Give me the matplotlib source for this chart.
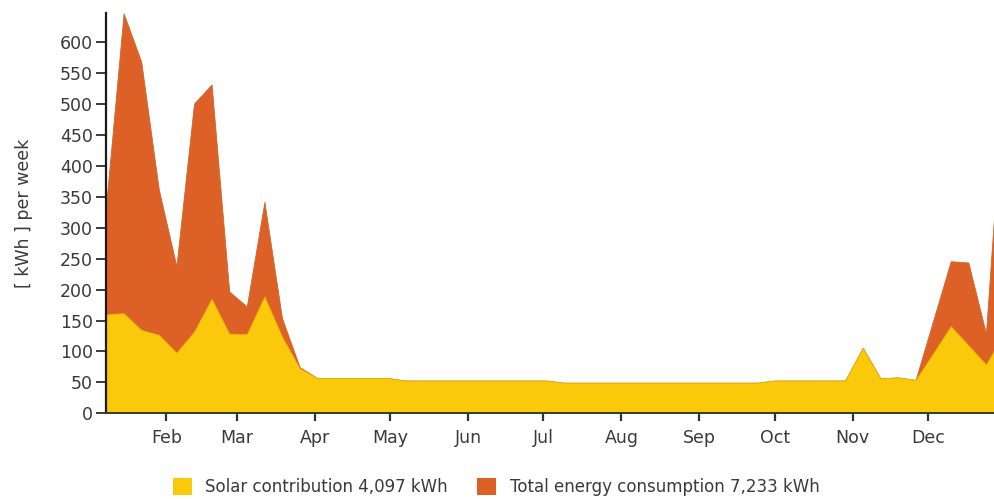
import matplotlib
matplotlib.use("Agg")
import matplotlib.pyplot as plt
import matplotlib.dates as mdates
from matplotlib.patches import Patch
import pandas as pd

# Weekly data (52 weeks)
week_start = "2023-01-08"
n_weeks = 52
total_kwh = [335, 647, 569, 362, 238, 501, 532, 197, 173, 342, 154, 75,
             57, 57, 57, 57, 57, 53, 53, 53, 53, 53, 53, 53, 53, 53,
             49.5, 49.5, 49.5, 49.5, 49.5, 49.5, 49.5, 49.5, 49.5, 49.5, 49.5, 49.5,
             53, 53, 53, 53, 53, 106, 56.5, 58, 54, 150, 246, 244, 129, 540]
solar_kwh = [160, 162, 135, 127, 98, 132, 185, 129, 128, 189, 124, 73,
             57, 57, 57, 57, 57, 53, 53, 53, 53, 53, 53, 53, 53, 53,
             49.5, 49.5, 49.5, 49.5, 49.5, 49.5, 49.5, 49.5, 49.5, 49.5, 49.5, 49.5,
             53, 53, 53, 53, 53, 106, 56.5, 58, 54, 97, 141, 110, 79, 128]
y_ticks = [0, 50, 100, 150, 200, 250, 300, 350, 400, 450, 500, 550, 600]
legend_labels = ["Solar contribution 4,097 kWh", "Total energy consumption 7,233 kWh"]
y_label = "[ kWh ] per week"

dates = pd.date_range(week_start, periods=n_weeks, freq="7D")

YELLOW = "#FAC90B"
ORANGE = "#DD6127"
TXT = "#3a3a3a"

plt.rcParams["font.family"] = ["DejaVu Sans"]

fig = plt.figure(figsize=(9.95, 4.99), dpi=100)
ax = fig.add_axes([106 / 995, 85.7 / 499, 889 / 995, 400.6 / 499])

ax.fill_between(dates, 0, total_kwh, color=ORANGE, linewidth=0.6, edgecolor="#c8692e")
ax.fill_between(dates, 0, solar_kwh, color=YELLOW, linewidth=0.6, edgecolor="#e8b20a")

ax.set_xlim(dates[0], dates[0] + pd.Timedelta(days=353.6))
ax.set_ylim(0, 648)
ax.set_yticks(y_ticks)

ax.xaxis.set_major_locator(mdates.MonthLocator())
ax.xaxis.set_major_formatter(mdates.DateFormatter("%b"))

for s in ["top", "right"]:
    ax.spines[s].set_visible(False)
ax.spines["left"].set_linewidth(1.6)
ax.spines["left"].set_color("#1a1a1a")
ax.spines["bottom"].set_linewidth(1.4)
ax.spines["bottom"].set_color("#3a3a2a")

ax.tick_params(axis="y", direction="out", length=7.5, width=1.2, colors="#1a1a1a",
               labelcolor=TXT, labelsize=12.5, pad=2)
ax.tick_params(axis="x", direction="out", length=6, width=1.6, colors="#333333",
               labelcolor=TXT, labelsize=12.5, pad=5)

ax.set_ylabel(y_label, fontsize=12.5, color=TXT, labelpad=19)

handles = [Patch(facecolor=YELLOW, edgecolor="none"), Patch(facecolor=ORANGE, edgecolor="none")]
fig.legend(handles, legend_labels, loc="center", bbox_to_anchor=(496 / 995, 1 - 487 / 499),
           ncol=2, frameon=False, fontsize=12, handlelength=1.15, handleheight=1.15,
           handletextpad=0.8, columnspacing=1.75, labelcolor=TXT)

fig.savefig("out.png", dpi=100)
